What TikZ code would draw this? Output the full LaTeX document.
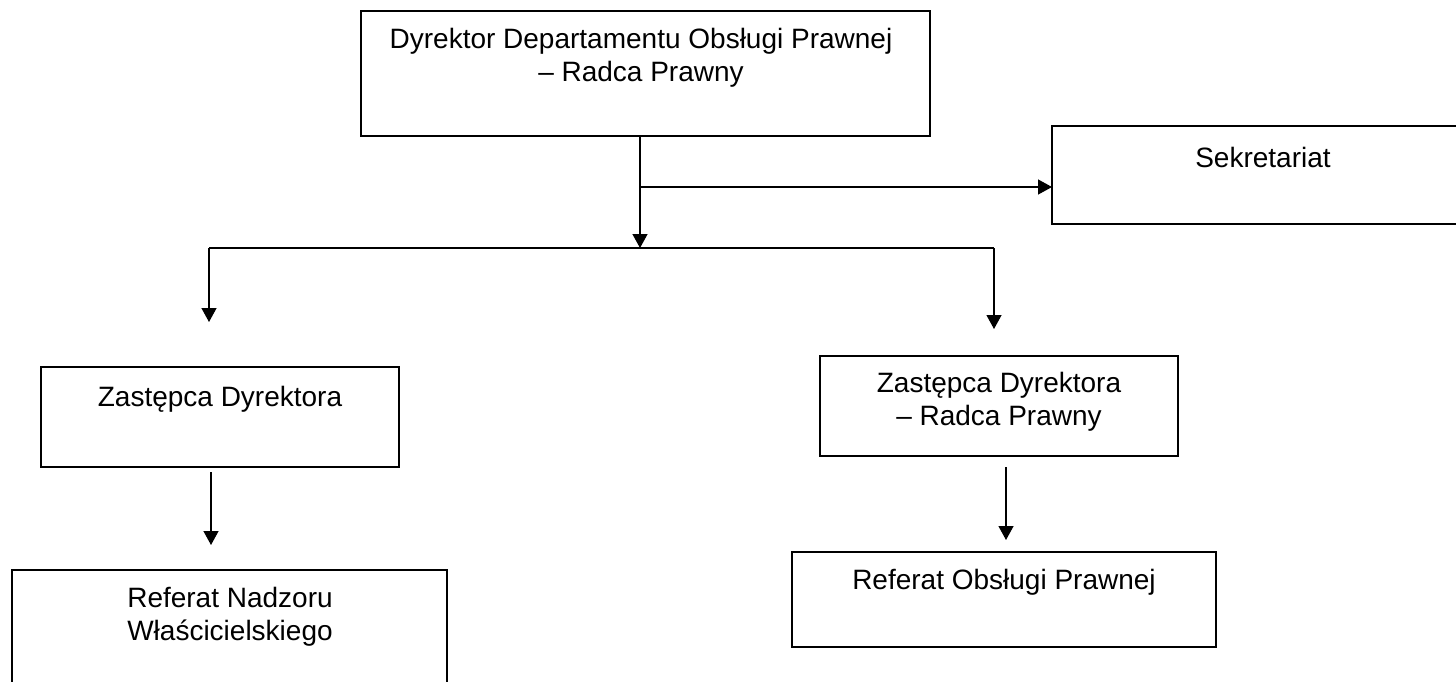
\documentclass[tikz,border=0pt]{standalone}
\usepackage{fontspec}
\setmainfont{Liberation Sans}
\usetikzlibrary{arrows.meta}
\begin{document}
\begin{tikzpicture}[x=1pt,y=-1pt,
  box/.style={draw, line width=2.4pt, inner sep=0pt, outer sep=0pt},
  lbl/.style={align=center, inner sep=0pt, font=\fontsize{28}{33}\selectfont},
  conn/.style={line width=1.3pt},
  arr/.style={conn, -{Triangle[length=14pt,width=15pt]}}]
\clip (0,0) rectangle (1456,681);
\fill[white] (0,0) rectangle (1456,681);
% boxes
\node[box, minimum width=569pt, minimum height=125pt] (dyr) at (645.5,73.5) {};
\node[box, minimum width=430pt, minimum height=98pt] (sek) at (1267,175) {};
\node[box, minimum width=358pt, minimum height=100pt] (zl) at (220,417) {};
\node[box, minimum width=435pt, minimum height=140pt] (rn) at (229.5,640) {};
\node[box, minimum width=358pt, minimum height=100pt] (zr) at (999,406) {};
\node[box, minimum width=424pt, minimum height=95pt] (ro) at (1004,599.5) {};
% labels
\node[lbl] (dyrT) at (641,58) {Dyrektor Departamentu Obsługi Prawnej\\– Radca Prawny};
\node[lbl] (sekT) at (1263,157) {Sekretariat};
\node[lbl] (zlT) at (220,399) {Zastępca Dyrektora};
\node[lbl] (rnT) at (230,617) {Referat Nadzoru\\Właścicielskiego};
\node[lbl] (zrT) at (999,402) {Zastępca Dyrektora\\– Radca Prawny};
\node[lbl] (roT) at (1004,582) {Referat Obsługi Prawnej};
% connectors
\coordinate (j0) at (640,187);
\coordinate (j1) at (640,248);
\coordinate (hl) at (209,248);
\coordinate (hr) at (994,248);
\coordinate (hlE) at (209,322);
\coordinate (hrE) at (994,329);
\coordinate (zlS) at (211,472);
\coordinate (zlE) at (211,545);
\coordinate (zrS) at (1006,467);
\coordinate (zrE) at (1006,540);
\draw[arr] (dyr.south -| j0) -- (j1);
\draw[arr] (j0) -- (sek.west |- j0);
\draw[conn] (hl) -- (hr);
\draw[arr] (hl) -- (hlE);
\draw[arr] (hr) -- (hrE);
\draw[arr] (zlS) -- (zlE);
\draw[arr] (zrS) -- (zrE);
\end{tikzpicture}
\end{document}
